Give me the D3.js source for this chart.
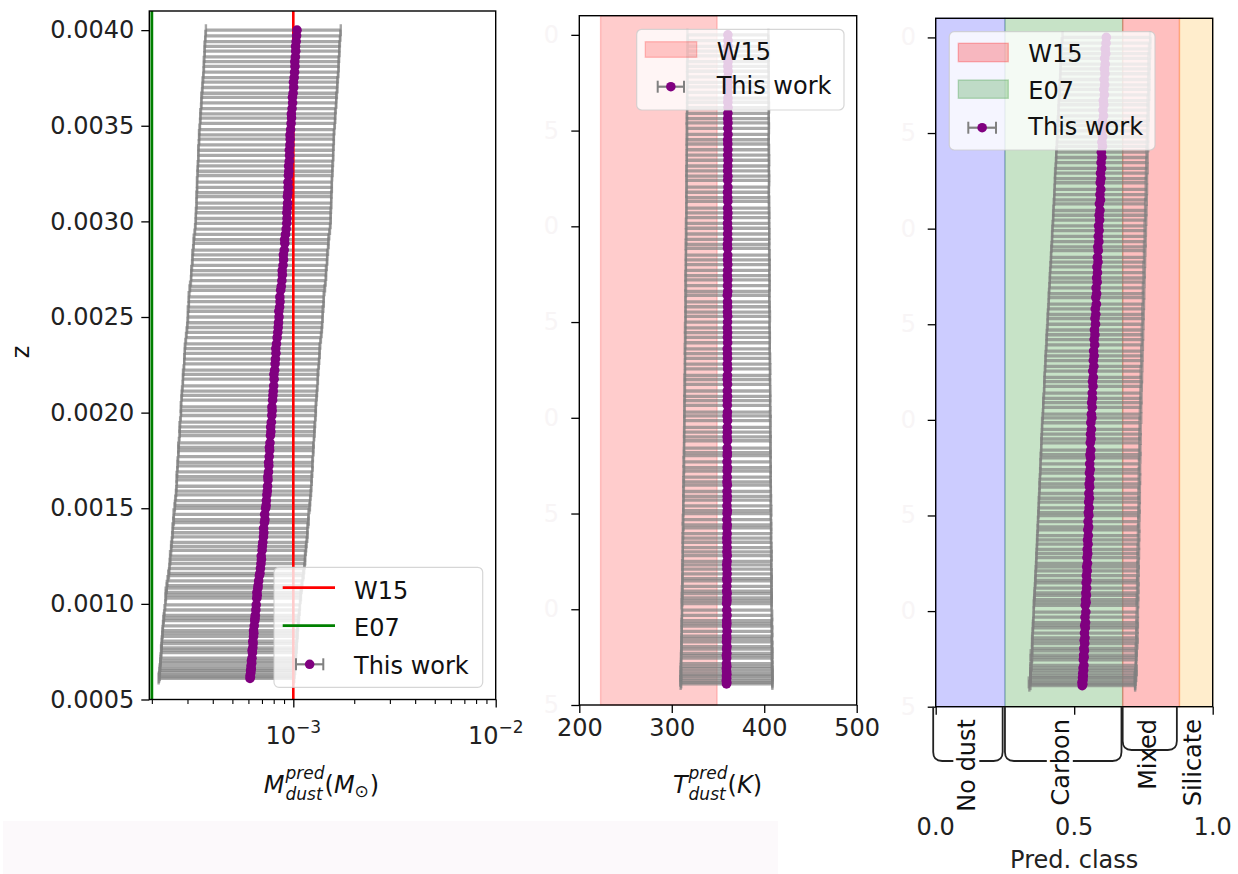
<!DOCTYPE html>
<html><head><meta charset="utf-8">
<script src="https://cdn.jsdelivr.net/npm/d3@7"></script>
<style>body{margin:0;background:#fff} svg{display:block} text{font-family:"DejaVu Sans",sans-serif}</style>
</head><body><svg id="c" width="1238" height="874"></svg>
<script>
// ---------------- data ----------------
const z = [
0.000610,0.000618,0.000627,0.000640,0.000652,0.000660,0.000675,0.000690,0.000702,0.000716,
0.000745,0.000758,0.000770,0.000792,0.000805,0.000830,0.000846,0.000860,0.000885,0.000912,
0.000925,0.000940,0.000968,0.000995,0.001030,0.001045,0.001060,0.001082,0.001095,0.001120,
0.001148,0.001160,0.001185,0.001210,0.001232,0.001250,0.001280,0.001300,0.001322,0.001350,
0.001372,0.001395,0.001425,0.001440,0.001468,0.001500,0.001515,0.001540,0.001570,0.001590,
0.001615,0.001648,0.001665,0.001690,0.001722,0.001740,0.001770,0.001802,0.001818,0.001842,
0.001880,0.001900,0.001925,0.001950,0.001985,0.002010,0.002030,0.002065,0.002090,0.002112,
0.002140,0.002175,0.002200,0.002222,0.002255,0.002280,0.002310,0.002335,0.002360,0.002392,
0.002420,0.002445,0.002470,0.002500,0.002530,0.002552,0.002580,0.002605,0.002640,0.002660,
0.002690,0.002720,0.002742,0.002770,0.002800,0.002825,0.002850,0.002885,0.002905,0.002932,
0.002960,0.002990,0.003015,0.003045,0.003070,0.003095,0.003130,0.003150,0.003178,0.003205,
0.003240,0.003262,0.003290,0.003315,0.003345,0.003372,0.003400,0.003430,0.003452,0.003480,
0.003512,0.003540,0.003562,0.003590,0.003620,0.003648,0.003670,0.003700,0.003728,0.003752,
0.003780,0.003810,0.003835,0.003860,0.003890,0.003915,0.003940,0.003970,0.004000];

const massPred = [
6.11e-4,6.14e-4,6.12e-4,6.17e-4,6.15e-4,6.20e-4,6.18e-4,6.23e-4,6.21e-4,6.25e-4,
6.28e-4,6.26e-4,6.31e-4,6.33e-4,6.31e-4,6.36e-4,6.38e-4,6.36e-4,6.41e-4,6.45e-4,
6.47e-4,6.49e-4,6.53e-4,6.56e-4,6.60e-4,6.63e-4,6.61e-4,6.68e-4,6.70e-4,6.74e-4,
6.80e-4,6.84e-4,6.88e-4,6.92e-4,6.96e-4,6.94e-4,7.01e-4,7.03e-4,7.07e-4,7.12e-4,
7.15e-4,7.13e-4,7.20e-4,7.24e-4,7.22e-4,7.30e-4,7.34e-4,7.36e-4,7.40e-4,7.44e-4,
7.46e-4,7.50e-4,7.48e-4,7.54e-4,7.57e-4,7.55e-4,7.60e-4,7.64e-4,7.62e-4,7.67e-4,
7.71e-4,7.75e-4,7.73e-4,7.79e-4,7.83e-4,7.86e-4,7.84e-4,7.90e-4,7.93e-4,7.96e-4,
8.00e-4,8.04e-4,8.02e-4,8.09e-4,8.13e-4,8.16e-4,8.21e-4,8.19e-4,8.26e-4,8.32e-4,
8.38e-4,8.42e-4,8.45e-4,8.50e-4,8.48e-4,8.56e-4,8.60e-4,8.58e-4,8.66e-4,8.72e-4,
8.78e-4,8.83e-4,8.81e-4,8.90e-4,8.95e-4,8.93e-4,9.02e-4,9.08e-4,9.06e-4,9.15e-4,
9.22e-4,9.28e-4,9.31e-4,9.29e-4,9.34e-4,9.37e-4,9.35e-4,9.40e-4,9.43e-4,9.41e-4,
9.46e-4,9.50e-4,9.48e-4,9.55e-4,9.58e-4,9.56e-4,9.62e-4,9.65e-4,9.63e-4,9.70e-4,
9.75e-4,9.80e-4,9.78e-4,9.86e-4,9.92e-4,9.90e-4,9.98e-4,10.04e-4,10.02e-4,10.10e-4,
10.15e-4,10.19e-4,10.17e-4,10.24e-4,10.28e-4,10.26e-4,10.33e-4,10.38e-4,10.43e-4];

const massErr = [
3.95e-4,3.97e-4,3.93e-4,3.99e-4,3.96e-4,4.01e-4,3.98e-4,4.03e-4,4.00e-4,4.04e-4,
4.05e-4,4.04e-4,4.08e-4,4.09e-4,4.07e-4,4.11e-4,4.12e-4,4.10e-4,4.14e-4,4.17e-4,
4.18e-4,4.19e-4,4.22e-4,4.23e-4,4.26e-4,4.28e-4,4.27e-4,4.31e-4,4.33e-4,4.35e-4,
4.39e-4,4.41e-4,4.44e-4,4.47e-4,4.49e-4,4.48e-4,4.52e-4,4.54e-4,4.56e-4,4.60e-4,
4.61e-4,4.60e-4,4.65e-4,4.67e-4,4.66e-4,4.71e-4,4.74e-4,4.75e-4,4.77e-4,4.80e-4,
4.81e-4,4.84e-4,4.83e-4,4.87e-4,4.89e-4,4.87e-4,4.90e-4,4.93e-4,4.92e-4,4.95e-4,
4.97e-4,5.00e-4,4.99e-4,5.03e-4,5.05e-4,5.07e-4,5.06e-4,5.10e-4,5.12e-4,5.14e-4,
5.16e-4,5.19e-4,5.17e-4,5.22e-4,5.24e-4,5.27e-4,5.30e-4,5.28e-4,5.33e-4,5.37e-4,
5.41e-4,5.43e-4,5.45e-4,5.48e-4,5.47e-4,5.52e-4,5.55e-4,5.54e-4,5.59e-4,5.63e-4,
5.66e-4,5.70e-4,5.68e-4,5.74e-4,5.77e-4,5.76e-4,5.82e-4,5.86e-4,5.84e-4,5.90e-4,
5.95e-4,5.99e-4,6.01e-4,5.99e-4,6.02e-4,6.04e-4,6.03e-4,6.06e-4,6.08e-4,6.07e-4,
6.10e-4,6.13e-4,6.11e-4,6.16e-4,6.18e-4,6.17e-4,6.21e-4,6.22e-4,6.21e-4,6.26e-4,
6.29e-4,6.32e-4,6.31e-4,6.36e-4,6.40e-4,6.39e-4,6.44e-4,6.48e-4,6.46e-4,6.51e-4,
6.55e-4,6.57e-4,6.56e-4,6.60e-4,6.63e-4,6.62e-4,6.66e-4,6.70e-4,6.73e-4];

const tempPred = [
359.2,359.5,358.9,359.4,359.1,359.6,359.3,359.0,359.5,359.2,
359.4,359.1,359.6,359.3,359.7,359.2,359.5,359.4,359.8,359.3,
359.6,359.4,359.8,359.5,359.3,359.7,359.5,359.9,359.4,359.6,
359.8,359.5,359.9,359.6,359.4,359.8,360.0,359.6,359.9,359.7,
359.5,359.9,359.7,360.0,359.6,359.8,360.1,359.7,359.9,360.0,
359.8,360.1,359.7,360.0,359.9,360.2,359.8,360.0,360.1,359.9,
360.2,359.9,360.1,360.0,360.3,359.9,360.2,360.1,360.0,360.3,
360.1,360.3,360.0,360.2,360.4,360.1,360.3,360.2,360.0,360.4,
360.2,360.4,360.1,360.3,360.5,360.2,360.4,360.3,360.1,360.5,
360.3,360.5,360.2,360.4,360.6,360.3,360.5,360.4,360.2,360.6,
360.4,360.6,360.3,360.5,360.7,360.4,360.6,360.5,360.3,360.7,
360.5,360.7,360.4,360.6,360.8,360.5,360.7,360.6,360.4,360.8,
360.6,360.8,360.5,360.7,360.9,360.6,360.8,360.7,360.5,360.9,
360.7,360.9,360.6,360.8,361.0,360.7,360.9,360.8,360.7];

const tempErr = [
49.6,49.3,49.8,49.4,49.5,49.2,49.7,49.3,49.5,49.1,
49.4,49.0,49.3,48.9,49.2,48.8,49.1,48.7,49.0,48.6,
48.9,48.5,48.8,48.4,48.7,48.3,48.6,48.2,48.5,48.1,
48.4,48.0,48.3,47.9,48.2,47.8,48.1,47.7,48.0,47.6,
47.9,47.5,47.8,47.4,47.7,47.3,47.6,47.2,47.5,47.1,
47.4,47.0,47.3,46.9,47.2,46.8,47.1,46.7,47.0,46.6,
46.9,46.5,46.8,46.4,46.7,46.3,46.6,46.2,46.5,46.1,
46.4,46.0,46.3,45.9,46.2,45.8,46.1,45.7,46.0,45.6,
45.9,45.5,45.8,45.4,45.7,45.3,45.6,45.2,45.5,45.1,
45.6,45.2,45.5,45.1,45.4,45.0,45.3,44.9,45.2,44.8,
45.1,44.8,45.0,44.7,44.9,44.6,44.8,44.5,44.7,44.4,
44.8,44.5,44.7,44.4,44.6,44.3,44.5,44.2,44.4,44.1,
44.5,44.2,44.4,44.1,44.3,44.0,44.2,43.9,44.1,43.8,
44.2,43.9,44.1,43.8,44.0,43.7,43.9,43.6,43.8];

const classPred = [
0.529,0.531,0.528,0.532,0.530,0.533,0.531,0.534,0.532,0.535,
0.533,0.536,0.534,0.537,0.535,0.538,0.536,0.539,0.537,0.540,
0.538,0.541,0.539,0.542,0.540,0.543,0.541,0.544,0.542,0.545,
0.543,0.546,0.544,0.547,0.545,0.548,0.546,0.549,0.547,0.550,
0.548,0.551,0.549,0.552,0.550,0.553,0.551,0.554,0.552,0.555,
0.553,0.556,0.554,0.557,0.555,0.558,0.556,0.559,0.557,0.560,
0.558,0.561,0.559,0.562,0.560,0.564,0.562,0.565,0.563,0.566,
0.565,0.568,0.566,0.569,0.567,0.571,0.569,0.572,0.570,0.574,
0.572,0.575,0.573,0.577,0.575,0.578,0.576,0.580,0.578,0.581,
0.579,0.583,0.581,0.584,0.582,0.586,0.584,0.587,0.585,0.589,
0.587,0.590,0.588,0.592,0.590,0.593,0.591,0.595,0.593,0.596,
0.594,0.597,0.595,0.599,0.597,0.600,0.598,0.602,0.600,0.603,
0.601,0.604,0.602,0.606,0.604,0.607,0.605,0.609,0.607,0.610,
0.608,0.611,0.609,0.612,0.610,0.614,0.612,0.615,0.616];

const classErr = [
0.191,0.189,0.192,0.190,0.188,0.191,0.189,0.192,0.190,0.188,
0.190,0.188,0.191,0.189,0.187,0.190,0.188,0.190,0.187,0.189,
0.187,0.189,0.186,0.188,0.186,0.188,0.185,0.187,0.185,0.187,
0.184,0.186,0.184,0.186,0.183,0.185,0.183,0.185,0.182,0.184,
0.182,0.184,0.181,0.183,0.181,0.183,0.180,0.182,0.180,0.182,
0.179,0.181,0.179,0.181,0.178,0.180,0.178,0.180,0.177,0.179,
0.177,0.179,0.176,0.178,0.176,0.178,0.175,0.177,0.175,0.177,
0.174,0.176,0.174,0.176,0.173,0.175,0.173,0.175,0.172,0.174,
0.172,0.174,0.171,0.173,0.171,0.173,0.170,0.172,0.170,0.172,
0.169,0.171,0.169,0.171,0.168,0.170,0.168,0.170,0.167,0.169,
0.167,0.169,0.166,0.168,0.166,0.168,0.165,0.167,0.165,0.167,
0.164,0.166,0.164,0.166,0.163,0.165,0.163,0.165,0.162,0.164,
0.162,0.164,0.161,0.163,0.161,0.163,0.160,0.162,0.160,0.162,
0.159,0.161,0.159,0.161,0.158,0.160,0.158,0.160,0.158];

const massW15 = 1e-3, massE07 = 2e-4;
const tempW15Range = [223, 349];
const classEdges = [0, 0.25, 0.675, 0.88, 1.0];
const classNames = ["No dust", "Carbon", "Mixed", "Silicate"];
const zTicks = [0.0005,0.0010,0.0015,0.0020,0.0025,0.0030,0.0035,0.0040];
const massTicks = [1e-3, 1e-2];
const massTickExp = ["\u22123", "\u22122"];
const tempTicks = [200, 300, 400, 500];
const classTicks = [0, 0.5, 1.0];
const zDomain = [0.0005, 0.0041];

// ---------------- drawing ----------------
const svg = d3.select('#c');
const FS = 24, SFS = 17;
const n = Math.min(z.length, massPred.length, massErr.length, tempPred.length, tempErr.length, classPred.length, classErr.length);
const idx = d3.range(n);

svg.append('rect').attr('x',3).attr('y',821).attr('width',775).attr('height',53).attr('fill','#fcf9fb');

const P1 = {l:149.3, r:495.7, t:11, b:699.5};
const P2 = {l:579.3, r:856.7, t:15.7, b:705};
const P3 = {l:935.7, r:1212.7, t:18.3, b:706.7};

function yScale(P){ return d3.scaleLinear().domain(zDomain).range([P.b, P.t]); }

function styleAxis(g){
  g.attr('font-family','DejaVu Sans').attr('font-size',FS);
  g.select('.domain').remove();
  g.selectAll('.tick line').attr('stroke','#000').attr('stroke-width',1.3);
  g.selectAll('.tick text').attr('fill','#222');
}

function errorbars(g, xs, ys, vals, errs){
  const eg = g.append('g');
  eg.selectAll('line.bar').data(idx).join('line').attr('class','bar')
    .attr('x1', i=>xs(vals[i]-errs[i])).attr('x2', i=>xs(vals[i]+errs[i]))
    .attr('y1', i=>ys(z[i])).attr('y2', i=>ys(z[i]))
    .attr('stroke','gray').attr('stroke-width',3.3).attr('stroke-opacity',0.68);
  [-1,1].forEach(s=>{
    eg.selectAll('line.cap'+(s>0?'r':'l')).data(idx).join('line').attr('class','cap'+(s>0?'r':'l'))
      .attr('x1', i=>xs(vals[i]+s*errs[i])).attr('x2', i=>xs(vals[i]+s*errs[i]))
      .attr('y1', i=>ys(z[i])-6).attr('y2', i=>ys(z[i])+6)
      .attr('stroke','gray').attr('stroke-width',2.4).attr('stroke-opacity',0.7);
  });
}
function points(g, xs, ys, vals){
  g.append('g').selectAll('circle').data(idx).join('circle')
    .attr('cx', i=>xs(vals[i])).attr('cy', i=>ys(z[i])).attr('r',4.8).attr('fill','purple');
}
function frame(P){
  svg.append('rect').attr('x',P.l).attr('y',P.t).attr('width',P.r-P.l).attr('height',P.b-P.t)
    .attr('fill','none').attr('stroke','#000').attr('stroke-width',1.4);
}
function legendBox(x,y,w,h){
  svg.append('rect').attr('x',x).attr('y',y).attr('width',w).attr('height',h).attr('rx',5)
    .attr('fill','#fff').attr('fill-opacity',0.8).attr('stroke','#cccccc').attr('stroke-opacity',0.8).attr('stroke-width',1.2);
}
function legText(x,y,t){
  svg.append('text').attr('x',x).attr('y',y).attr('font-size',FS).attr('fill','#111').text(t);
}
function legErr(x1,x2,y){
  svg.append('line').attr('x1',x1).attr('x2',x2).attr('y1',y).attr('y2',y).attr('stroke','gray').attr('stroke-width',2.2);
  [x1,x2].forEach(x=>svg.append('line').attr('x1',x).attr('x2',x).attr('y1',y-6).attr('y2',y+6).attr('stroke','gray').attr('stroke-width',2));
  svg.append('circle').attr('cx',(x1+x2)/2).attr('cy',y).attr('r',4.8).attr('fill','purple');
}
function legPatch(x,y,w,h,color,op){
  svg.append('rect').attr('x',x).attr('y',y).attr('width',w).attr('height',h)
    .attr('fill',color).attr('fill-opacity',op).attr('stroke',color).attr('stroke-opacity',op).attr('stroke-width',1.4);
}
function mathLabel(cx, base, pieces){
  const g = svg.append('g');
  let x = 0, lastStart = 0;
  pieces.forEach(p=>{
    const sx = p.stack ? lastStart : x;
    const t = g.append('text').attr('x',sx).attr('y',base+(p.dy||0)).attr('font-size',p.size||FS)
      .attr('font-style',p.it?'italic':'normal').attr('fill','#111').text(p.t);
    const w = t.node().getComputedTextLength();
    if(p.stack){ x = Math.max(x, sx+w); } else { lastStart = sx; x = sx + w + (p.gap||0); }
  });
  g.attr('transform',`translate(${cx - x/2},0)`);
}
function ghostLabels(P, xEnd){
  const ys = yScale(P);
  svg.append('g').selectAll('text').data(zTicks).join('text')
    .attr('x',xEnd).attr('y',d=>ys(d)+8).attr('text-anchor','end').attr('font-size',FS)
    .attr('fill','#f8f5f6').text(d=>d3.format('.4f')(d).slice(-1));
}

// ===== Panel 1 : dust mass =====
const y1 = yScale(P1);
const x1 = d3.scaleLog().domain([1.943e-4, 1e-2]).range([P1.l, P1.r]);
const g1 = svg.append('g');
g1.append('defs').append('clipPath').attr('id','cp1').append('rect')
  .attr('x',P1.l).attr('y',P1.t).attr('width',P1.r-P1.l).attr('height',P1.b-P1.t);
const d1 = g1.append('g').attr('clip-path','url(#cp1)');
errorbars(d1, x1, y1, massPred, massErr);
d1.append('line').attr('x1',x1(massW15)).attr('x2',x1(massW15)).attr('y1',P1.t).attr('y2',P1.b).attr('stroke','red').attr('stroke-width',2.6);
d1.append('line').attr('x1',x1(massE07)).attr('x2',x1(massE07)).attr('y1',P1.t).attr('y2',P1.b).attr('stroke','green').attr('stroke-width',2.8);
points(d1, x1, y1, massPred);
frame(P1);
const ay1 = svg.append('g').attr('transform',`translate(${P1.l},0)`)
  .call(d3.axisLeft(y1).tickValues(zTicks).tickFormat(d3.format('.4f')).tickSize(8).tickPadding(7));
styleAxis(ay1);
const minorTicks = [];
[1e-4,1e-3].forEach(dec=>{ for(let k=2;k<=9;k++){ const v=k*dec; if(v>=x1.domain()[0] && v<=1e-2) minorTicks.push(v);} });
const ax1m = svg.append('g').attr('transform',`translate(0,${P1.b})`)
  .call(d3.axisBottom(x1).tickValues(minorTicks).tickFormat('').tickSize(4.5));
styleAxis(ax1m); ax1m.selectAll('.tick line').attr('stroke-width',1.1);
const ax1 = svg.append('g').attr('transform',`translate(0,${P1.b})`)
  .call(d3.axisBottom(x1).tickValues(massTicks).tickFormat('').tickSize(8));
styleAxis(ax1);
massTicks.forEach((v,i)=>{
  const t = svg.append('text').attr('x',x1(v)).attr('y',744).attr('text-anchor','middle').attr('font-size',FS).attr('fill','#222');
  t.append('tspan').text('10');
  t.append('tspan').attr('font-size',SFS).attr('dy',-11).text(massTickExp[i]);
});
svg.append('text').attr('transform','translate(29,352) rotate(-90)').attr('text-anchor','middle').attr('font-size',FS).attr('fill','#111').text('z');
mathLabel(321.5, 793, [
  {t:'M',it:1,gap:1},{t:'pred',it:1,size:SFS,dy:-14},{t:'dust',it:1,size:SFS,dy:7,stack:1},
  {t:'(',gap:0},{t:'M',it:1},{t:'\u2299',size:SFS,dy:4,gap:1},{t:')'}]);
legendBox(274, 567.3, 208.7, 120);
svg.append('line').attr('x1',282.7).attr('x2',335).attr('y1',587.7).attr('y2',587.7).attr('stroke','red').attr('stroke-width',2.8);
svg.append('line').attr('x1',282.7).attr('x2',335).attr('y1',625.7).attr('y2',625.7).attr('stroke','green').attr('stroke-width',2.8);
legErr(296, 323.3, 664.3);
legText(354, 598.5, 'W15'); legText(354, 636, 'E07'); legText(354, 674, 'This work');

// ===== Panel 2 : temperature =====
const y2 = yScale(P2);
const x2 = d3.scaleLinear().domain([200,500]).range([P2.l, P2.r]);
ghostLabels(P2, 559);
ghostLabels(P3, 916);
svg.append('rect').attr('x',x2(tempW15Range[0])).attr('y',P2.t).attr('width',x2(tempW15Range[1])-x2(tempW15Range[0])).attr('height',P2.b-P2.t)
  .attr('fill','red').attr('fill-opacity',0.2).attr('stroke','red').attr('stroke-opacity',0.2).attr('stroke-width',1.4);
const d2 = svg.append('g');
errorbars(d2, x2, y2, tempPred, tempErr);
points(d2, x2, y2, tempPred);
frame(P2);
const ay2 = svg.append('g').attr('transform',`translate(${P2.l},0)`)
  .call(d3.axisLeft(y2).tickValues(zTicks).tickFormat('').tickSize(8));
styleAxis(ay2);
const ax2 = svg.append('g').attr('transform',`translate(0,${P2.b})`)
  .call(d3.axisBottom(x2).tickValues(tempTicks).tickFormat(d3.format('d')).tickSize(8).tickPadding(6));
styleAxis(ax2);
mathLabel(717.5, 793, [
  {t:'T',it:1,gap:1},{t:'pred',it:1,size:SFS,dy:-14},{t:'dust',it:1,size:SFS,dy:7,stack:1},
  {t:'('},{t:'K',it:1},{t:')'}]);
legendBox(636.7, 29.3, 207.3, 80.7);
legPatch(645.3, 41.7, 51.4, 15.6, 'red', 0.2);
legErr(657.7, 684, 86.7);
legText(716.7, 60, 'W15'); legText(716.7, 94.3, 'This work');

// ===== Panel 3 : class =====
const y3 = yScale(P3);
const x3 = d3.scaleLinear().domain([0,1]).range([P3.l, P3.r]);
const bandColors = ['blue','green','red','orange'];
const bandAlpha = [0.2, 0.22, 0.25, 0.2];
classNames.forEach((c,i)=>{
  svg.append('rect').attr('x',x3(classEdges[i])).attr('y',P3.t).attr('width',x3(classEdges[i+1])-x3(classEdges[i])).attr('height',P3.b-P3.t)
    .attr('fill',bandColors[i]).attr('fill-opacity',bandAlpha[i]).attr('stroke',bandColors[i]).attr('stroke-opacity',bandAlpha[i]).attr('stroke-width',1.4);
});
const d3g = svg.append('g');
errorbars(d3g, x3, y3, classPred, classErr);
points(d3g, x3, y3, classPred);
frame(P3);
const ay3 = svg.append('g').attr('transform',`translate(${P3.l},0)`)
  .call(d3.axisLeft(y3).tickValues(zTicks).tickFormat('').tickSize(8));
styleAxis(ay3);
const ax3 = svg.append('g').attr('transform',`translate(0,${P3.b})`)
  .call(d3.axisBottom(x3).tickValues(classTicks).tickFormat('').tickSize(8));
styleAxis(ax3);
classTicks.forEach(v=>{
  svg.append('text').attr('x',x3(v)).attr('y',835).attr('text-anchor','middle').attr('font-size',FS).attr('fill','#222').text(d3.format('.1f')(v));
});
svg.append('text').attr('x',x3(0.5)).attr('y',868).attr('text-anchor','middle').attr('font-size',FS).attr('fill','#222').text('Pred. class');
// brackets + category labels
const brDepth = [761, 761, 750, null];
const brInset = [[-2.5,-2.3],[0,-1.2],[0,-2.6],[0,0]];
classNames.forEach((c,i)=>{
  const a = x3(classEdges[i]) + brInset[i][0], b = x3(classEdges[i+1]) + brInset[i][1];
  if(brDepth[i]){
    const d = brDepth[i], r = 9;
    svg.append('path').attr('d',`M${a},${P3.b} L${a},${d-r} Q${a},${d} ${a+r},${d} L${b-r},${d} Q${b},${d} ${b},${d-r} L${b},${P3.b}`)
      .attr('fill','none').attr('stroke','#222').attr('stroke-width',1.8);
  }
});
classNames.forEach((c,i)=>{
  const cx = x3((classEdges[i]+classEdges[i+1])/2) - 4;
  svg.append('rect').attr('x',cx-13).attr('y',752).attr('width',26).attr('height',14).attr('fill','#fff');
  svg.append('text').attr('transform',`translate(${cx+9},719) rotate(-90)`).attr('text-anchor','end')
    .attr('font-size',FS).attr('fill','#111').text(c);
});
legendBox(949.3, 31.7, 205.7, 118.3);
legPatch(958.3, 43.3, 50, 18.4, 'red', 0.25);
legPatch(958.3, 80, 50, 18.3, 'green', 0.22);
legErr(968.3, 996, 127.7);
legText(1028.3, 62, 'W15'); legText(1028.3, 99, 'E07'); legText(1028.3, 135, 'This work');
</script></body></html>
